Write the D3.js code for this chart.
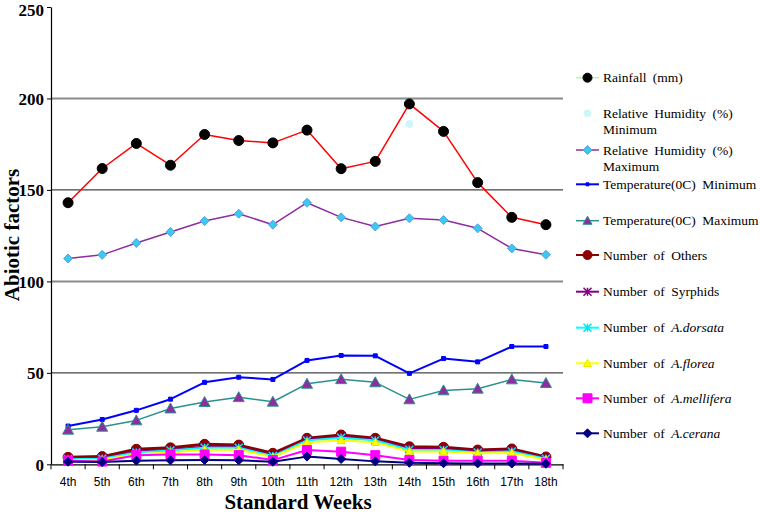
<!DOCTYPE html>
<html><head><meta charset="utf-8">
<script src="https://cdn.jsdelivr.net/npm/d3@7"></script>
<style>body{margin:0;background:#fff}svg{display:block}</style>
</head><body><svg id="c" width="760" height="516"></svg>
<script>
const weeks = ["4th","5th","6th","7th","8th","9th","10th","11th","12th","13th","14th","15th","16th","17th","18th"];
const yTicks = [0,50,100,150,200,250];
const rainfall = [143,161.7,175.4,163.5,180.3,177,175.7,182.7,161.6,165.6,197,182,154,135,131];
const rhMin = [null,null,null,null,null,null,null,null,null,null,186,null,null,null,null];
const rhMax = [112.5,114.5,121,127,133,137,131,143,135,130,134.5,133.5,129,118,114.6];
const tempMin = [20.9,24.5,29.5,35.6,44.8,47.6,46.4,56.8,59.5,59.3,49.7,57.8,56,64.4,64.4];
const tempMax = [18.9,20.5,24,30.5,34,36.7,34.2,44,46.5,44.8,35.5,40.4,41.3,46.4,44.4];
const others = [3.8,4.2,8.2,9,10.9,10.5,6,14.2,16,14.2,9.6,9.3,7.8,8.4,4];
const syrphids = [3.2,3.5,7,8,9.6,9.5,5,13.5,15,13.5,8.6,8.3,7,7.5,3.5];
const dorsata = [2.8,3,6.5,7.5,9,9,4.5,13,14.5,13,8,7.8,6.5,7,3];
const florea = [2.2,2.5,5.5,6.5,8,8,4,12,13,12,7,7,6,6.2,2.5];
const mellifera = [2,1.5,5,5.4,5.4,5,2.3,7.8,6.9,5,2.4,2,2,2,0.8];
const cerana = [1.4,1.2,2,2.2,2.4,2.2,1.4,4.2,2.9,1.6,0.8,0.6,0.5,0.4,0.3];

const series = [
 {name:"Rainfall (mm)", data:rainfall, line:"#ff0000", lw:1.5, legLine:"#b8f5b8", sym:"circle", size:5, fill:"#000", stroke:"#000"},
 {name:"Relative Humidity (%)|Minimum", data:rhMin, line:null, lw:0, legLine:null, sym:"circle", size:3.5, fill:"#ccf7f7", stroke:"#ccf7f7"},
 {name:"Relative Humidity (%)|Maximum", data:rhMax, line:"#8e2ca0", lw:1.5, legLine:"#8e2ca0", sym:"diamond", size:4.5, fill:"#3cc8f0", stroke:"#5aa0e0"},
 {name:"Temperature(0C) Minimum", data:tempMin, line:"#0000ff", lw:2, legLine:"#0000ff", sym:"square", size:2, fill:"#0000ff", stroke:"#0000ff"},
 {name:"Temperature(0C) Maximum", data:tempMax, line:"#2a9090", lw:1.5, legLine:"#2a9090", sym:"triangle", size:5.5, fill:"#8e2ca0", stroke:"#2a9090"},
 {name:"Number of Others", data:others, line:"#8b0000", lw:3, legLine:"#8b0000", sym:"circle", size:5, fill:"#8b0000", stroke:"#8b0000"},
 {name:"Number of Syrphids", data:syrphids, line:"#800080", lw:2, legLine:"#800080", sym:"x", size:4, fill:"none", stroke:"#800080"},
 {name:"Number of *A.dorsata", data:dorsata, line:"#00ffff", lw:2, legLine:"#00ffff", sym:"x", size:4, fill:"none", stroke:"#00e5ee"},
 {name:"Number of *A.florea", data:florea, line:"#ffff00", lw:2, legLine:"#ffff00", sym:"triangle", size:4, fill:"#ffff00", stroke:"#e8e800"},
 {name:"Number of *A.mellifera", data:mellifera, line:"#ff00ff", lw:2, legLine:"#ff00ff", sym:"square", size:4.5, fill:"#ff00ff", stroke:"#ff00ff"},
 {name:"Number of *A.cerana", data:cerana, line:"#000080", lw:2, legLine:"#000080", sym:"diamond", size:4.5, fill:"#000080", stroke:"#000080"}
];

const SERIF = "'Liberation Serif','Times New Roman',Times,serif";
const svg = d3.select("#c");
const L=51, R=563, T=7, B=464.3;
const x = d3.scaleBand().domain(weeks).range([L,R]);
const y = d3.scaleLinear().domain([0,250]).range([B,T]);
const cx = d => x(d)+x.bandwidth()/2;

// gridlines
[50,100,150,200].forEach(v=>{
  const gray = (v===100||v===200);
  svg.append("line").attr("x1",L).attr("x2",R).attr("y1",y(v)).attr("y2",y(v))
    .attr("stroke",gray?"#8a8a8a":"#444").attr("stroke-width",gray?2:1.2);
});

// y axis
const ya = svg.append("g").attr("transform",`translate(${L},0)`)
  .call(d3.axisLeft(y).tickValues(yTicks).tickSize(4).tickPadding(3).tickSizeOuter(0));
ya.attr("font-family",null);
ya.select(".domain").attr("stroke","#000").attr("stroke-width",1.2);
ya.selectAll(".tick line").attr("stroke","#000");
ya.selectAll(".tick text").style("font-family",SERIF)
  .style("font-weight","bold").style("font-size","17px").attr("fill","#000")
  .attr("dy",d=>d===250?"0.5em":"0.35em");

// x axis
const xa = svg.append("g").attr("transform",`translate(0,${B})`)
  .call(d3.axisBottom(x).tickSize(0).tickPadding(13).tickSizeOuter(0));
xa.select(".domain").attr("stroke","#000").attr("stroke-width",1.2);
xa.selectAll(".tick text").style("font-family","'Liberation Sans',Arial,sans-serif")
  .style("font-size","12px").attr("fill","#000");
const bounds = weeks.map(w=>x(w)).concat([R]);
xa.selectAll("line.bt").data(bounds).enter().append("line").attr("class","bt")
  .attr("x1",d=>d).attr("x2",d=>d).attr("y1",0).attr("y2",5).attr("stroke","#000");

function symPath(sym,s){
  switch(sym){
    case "circle": return d3.symbol(d3.symbolCircle, Math.PI*s*s)();
    case "square": return `M${-s},${-s}H${s}V${s}H${-s}Z`;
    case "diamond": return `M0,${-s}L${s},0L0,${s}L${-s},0Z`;
    case "triangle": return `M0,${-s}L${s},${s*0.8}L${-s},${s*0.8}Z`;
    case "x": return `M${-s},${-s}L${s},${s}M${s},${-s}L${-s},${s}M0,${-s}V${s}`;
  }
}

const lineGen = d3.line().defined(d=>d.v!=null).x(d=>cx(d.w)).y(d=>y(d.v));
series.forEach(s=>{
  const pts = weeks.map((w,i)=>({w, v:s.data[i]}));
  if(s.line){
    svg.append("path").datum(pts).attr("d",lineGen).attr("fill","none")
      .attr("stroke",s.line).attr("stroke-width",s.lw).attr("stroke-linejoin","round");
  }
  svg.selectAll(null).data(pts.filter(p=>p.v!=null)).enter().append("path")
    .attr("transform",p=>`translate(${cx(p.w)},${y(p.v)})`)
    .attr("d",symPath(s.sym,s.size))
    .attr("fill",s.fill).attr("stroke",s.stroke).attr("stroke-width",s.sym==="x"?1.5:1);
});

// legend
const legY = [77.7,113.3,150,184.3,220.7,255,291.7,327.7,363.3,398.3,433.3];
const lg = svg.append("g");
series.forEach((s,i)=>{
  const yy = legY[i];
  if(s.legLine) lg.append("line").attr("x1",576).attr("x2",599).attr("y1",yy).attr("y2",yy)
    .attr("stroke",s.legLine).attr("stroke-width",Math.min(s.lw,2));
  lg.append("path").attr("transform",`translate(587.5,${yy})`)
    .attr("d",symPath(s.sym, s.sym==="square"&&s.size<3?1.5:Math.min(s.size,4.5)))
    .attr("fill",s.fill).attr("stroke",s.stroke).attr("stroke-width",s.sym==="x"?1.5:1);
  const lines = s.name.split("|");
  lines.forEach((ln,j)=>{
    const t = lg.append("text").attr("x",603).attr("y",yy+4.5+j*16)
      .style("font-family",SERIF).style("font-size","13.5px")
      .attr("fill","#000").style("word-spacing","3px");
    const parts = ln.split("*");
    t.append("tspan").text(parts[0]);
    if(parts[1]) t.append("tspan").style("font-style","italic").text(parts[1]);
  });
});

// axis titles
svg.append("text").attr("transform","translate(19,235) rotate(-90)").attr("text-anchor","middle")
  .style("font-family",SERIF).style("font-weight","bold")
  .style("font-size","21px").text("Abiotic factors");
svg.append("text").attr("x",298).attr("y",509).attr("text-anchor","middle")
  .style("font-family",SERIF).style("font-weight","bold")
  .style("font-size","21px").text("Standard Weeks");
</script></body></html>
